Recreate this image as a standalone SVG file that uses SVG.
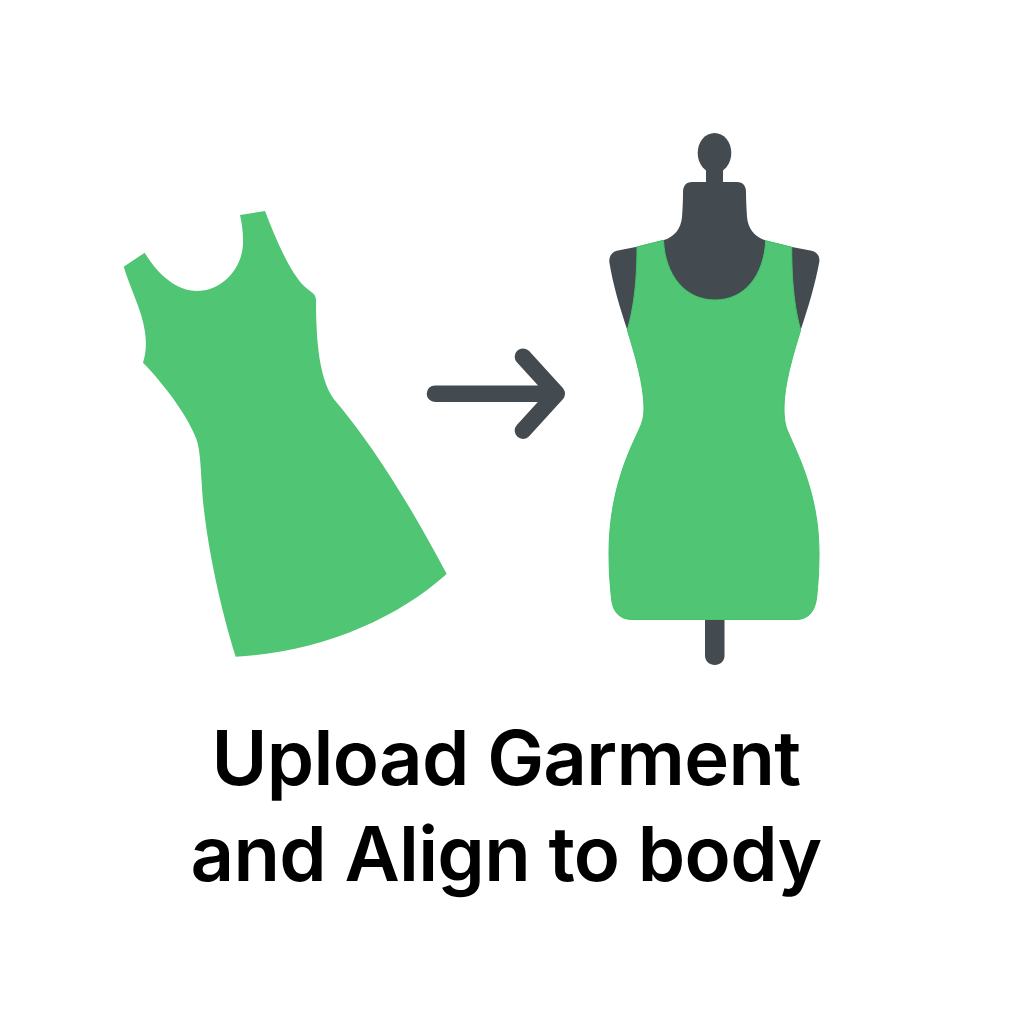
<svg xmlns="http://www.w3.org/2000/svg" width="1024" height="1024" viewBox="0 0 1024 1024">
<style>
.g{fill:#50c574}.d{fill:#434b50}
.t{font-family:"Inter","Liberation Sans",sans-serif;font-size:76px;font-weight:600;letter-spacing:-0.7px;fill:#000;text-anchor:middle}
</style>
<rect width="1024" height="1024" fill="#fff"/>
<g id="garment">
<path class="g" d="M123.7 266.7L144.7 252.7C158 275 177 291 197 291C222 291 244 268 243 240C243 232 242 224 240 215L265 211C276 240 290 272 304 286C310 292 316 293 316 300C316 345 320 378 333 398C375 448 410 505 446.7 574C395 620 320 652 235.7 656.7C218 600 204 530 201.7 483C200.5 465 200 450 196.7 440C189 418 165 385 143 362.7C147 350 146 340 145 332C142 310 130 288 123.7 266.7Z"/>
</g>
<g id="mannequin">
<path class="d" d="M705 600H724.5V656C724.5 661 720 665 714.7 665C709.5 665 705 661 705 656Z"/>
<ellipse class="d" cx="714.5" cy="153" rx="16.8" ry="20"/>
<rect class="d" x="706" y="165" width="17" height="22"/>
<path class="d" d="M692 182H737C743 182 746 186 746 192C746 200 746.5 208 747 217C748 229 755 237 766 240.7L792 247L811.7 250.7C817 252 820 256 819.3 262C815 285 808 308 800.7 330H627.3C620 308 613 285 609.3 262C609 256 612 252 616.7 250.7L637 246.7L664 240C674 237 681 229 682 217C682.7 208 683 200 683 192C683 186 686 182 692 182Z"/>
<path class="g" stroke="#43c46c" stroke-width="1" d="M637 247L663.5 240.3C665 275 685 300 715 300C745 300 764 275 765.7 240.7L791.7 247.3C791.7 285 795 310 800.7 330C793 355 784 385 784 408C784 418 785 425 788 432C798 455 819 495 819 553C819 570 818 585 816.7 597C815 612 808 619.5 796 619.5H632C620 619.5 613 612 611.7 600C610 585 609 570 609 553C609 495 627 455 638 432C641 425 644 420 644 408C644 385 635 355 627.3 330C633 310 637 285 637 247Z"/>
</g>
<g id="connectors">
<path d="M435 393.7H556.7M523 356.7L556.7 393.7L523 430.7" fill="none" stroke="#434b50" stroke-width="16.6" stroke-linecap="round" stroke-linejoin="round"/>
</g>
<g id="label">
<text class="t" x="506" y="785">Upload Garment</text>
<text class="t" x="506" y="881">and Align to body</text>
</g>
</svg>
